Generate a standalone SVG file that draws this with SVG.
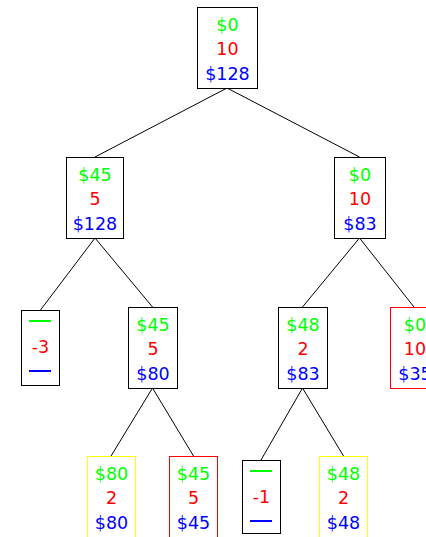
<svg xmlns="http://www.w3.org/2000/svg" width="426" height="537" viewBox="0 0 426 537">
<style>
.b{fill:#fff;stroke:#000;stroke-width:1}
.y{stroke:#ffff00}
.r{stroke:#ff0000}
text{font-family:"DejaVu Sans",sans-serif;font-size:17.5px;text-anchor:middle}
.g{fill:#00ff00}.d{fill:#ff0000}.u{fill:#0000ff}
.e line{stroke:#000;stroke-width:1}
</style>
<rect width="426" height="537" fill="#fff"/>
<g id="connectors" class="e">
<line x1="227" y1="88" x2="95" y2="157"/>
<line x1="227" y1="88" x2="359.5" y2="157"/>
<line x1="95" y1="238" x2="40.5" y2="310"/>
<line x1="95" y1="238" x2="152.5" y2="307"/>
<line x1="359.5" y1="238" x2="302.5" y2="307"/>
<line x1="359.5" y1="238" x2="414" y2="307"/>
<line x1="152.5" y1="388" x2="111" y2="456"/>
<line x1="152.5" y1="388" x2="193.5" y2="456"/>
<line x1="302.5" y1="388" x2="261" y2="460"/>
<line x1="302.5" y1="388" x2="343.5" y2="456"/>
</g>
<g id="n0"><rect class="b" x="197.5" y="7.5" width="60" height="81"/>
<text x="227.5" y="30.5" class="g">$0</text><text x="227.5" y="55" class="d">10</text><text x="227.5" y="79.5" class="u">$128</text></g>
<g id="n1"><rect class="b" x="66.5" y="157.5" width="57" height="81"/>
<text x="95" y="180.5" class="g">$45</text><text x="95" y="205" class="d">5</text><text x="95" y="229.5" class="u">$128</text></g>
<g id="n2"><rect class="b" x="334.5" y="157.5" width="51" height="81"/>
<text x="360" y="180.5" class="g">$0</text><text x="360" y="205" class="d">10</text><text x="360" y="229.5" class="u">$83</text></g>
<g id="n3"><rect class="b" x="21.5" y="310.5" width="38" height="75"/>
<line x1="29" y1="321" x2="51" y2="321" stroke="#00ff00" stroke-width="2"/>
<text x="40.5" y="352.5" class="d">-3</text>
<line x1="29" y1="371" x2="51" y2="371" stroke="#0000ff" stroke-width="2"/></g>
<g id="n4"><rect class="b" x="128.5" y="307.5" width="49" height="81"/>
<text x="153" y="330.5" class="g">$45</text><text x="153" y="355" class="d">5</text><text x="153" y="379.5" class="u">$80</text></g>
<g id="n5"><rect class="b" x="278.5" y="307.5" width="49" height="81"/>
<text x="303" y="330.5" class="g">$48</text><text x="303" y="355" class="d">2</text><text x="303" y="379.5" class="u">$83</text></g>
<g id="n6"><rect class="b r" x="390.5" y="307.5" width="49" height="81"/>
<text x="415" y="330.5" class="g">$0</text><text x="415" y="355" class="d">10</text><text x="415" y="379.5" class="u">$35</text></g>
<g id="n7"><rect class="b y" x="87.5" y="456.5" width="48" height="81"/>
<text x="111.5" y="479.5" class="g">$80</text><text x="111.5" y="504" class="d">2</text><text x="111.5" y="528.5" class="u">$80</text></g>
<g id="n8"><rect class="b r" x="169.5" y="456.5" width="48" height="81"/>
<text x="193.5" y="479.5" class="g">$45</text><text x="193.5" y="504" class="d">5</text><text x="193.5" y="528.5" class="u">$45</text></g>
<g id="n9"><rect class="b" x="242.5" y="460.5" width="38" height="73"/>
<line x1="250" y1="471" x2="272" y2="471" stroke="#00ff00" stroke-width="2"/>
<text x="261.5" y="502.5" class="d">-1</text>
<line x1="250" y1="521" x2="272" y2="521" stroke="#0000ff" stroke-width="2"/></g>
<g id="n10"><rect class="b y" x="319.5" y="456.5" width="48" height="81"/>
<text x="343.5" y="479.5" class="g">$48</text><text x="343.5" y="504" class="d">2</text><text x="343.5" y="528.5" class="u">$48</text></g>
</svg>
